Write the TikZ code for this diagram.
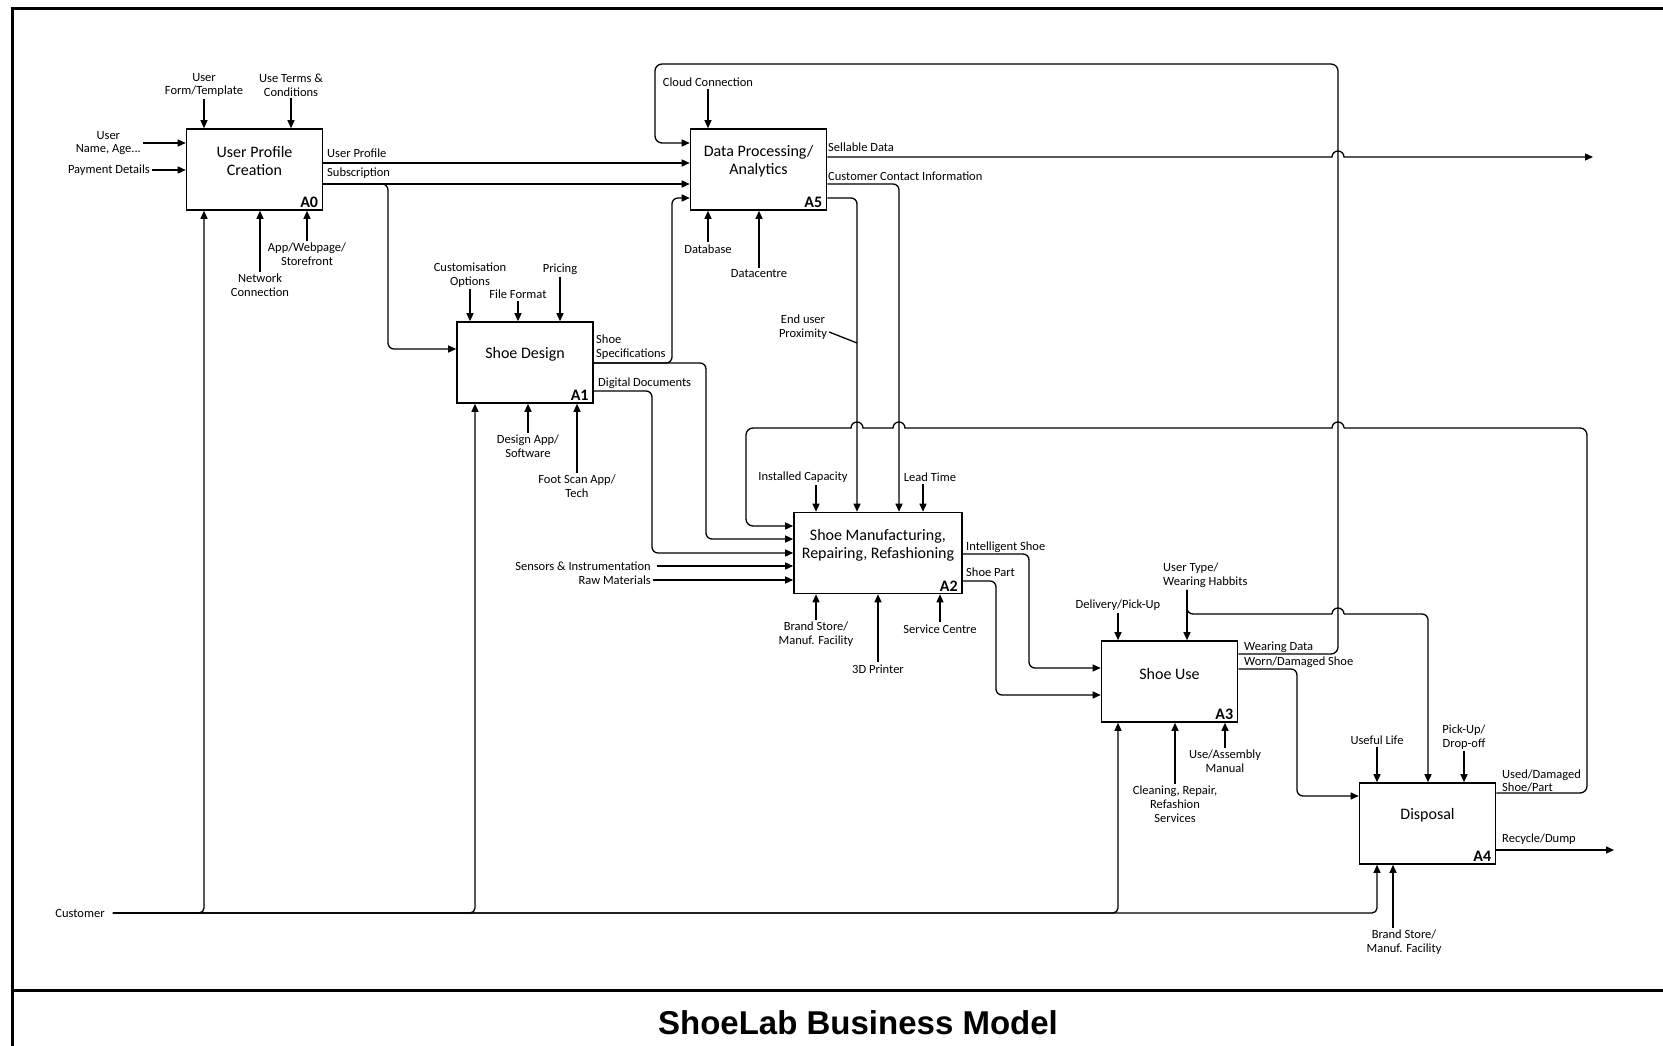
\documentclass[tikz,border=0pt]{standalone}
\usepackage{fontspec}
\setmainfont{Carlito}
\newfontfamily\titlefont{Liberation Sans}
\usetikzlibrary{arrows.meta}

\begin{document}
\begin{tikzpicture}[x=1pt, y=-1pt,
        func/.style={rectangle, draw, line width=1.6pt, minimum width=136pt, minimum height=81pt, inner sep=0pt},
        fname/.style={align=center, font=\fontsize{16}{18}\selectfont, inner sep=0pt},
        fid/.style={anchor=south east, font=\fontsize{16}{18}\selectfont\bfseries, inner xsep=5pt, inner ysep=3pt},
        lbl/.style={align=center, font=\fontsize{12.5}{13.8}\selectfont, inner sep=2pt},
        flow/.style={line width=1.3pt, -{Triangle[length=8pt,width=7pt]}},
        wire/.style={line width=1.3pt}]

        \useasboundingbox (0,0) rectangle (1663,1046);
        \fill[white] (0,0) rectangle (1663,1046);
        \draw[line width=3pt] (1663,8.5) -- (12.5,8.5) -- (12.5,1046);
        \draw[line width=3pt] (12.5,990) -- (1663,990);

        \node[func] (A0) at (254.5,169.5) {};
        \node[func] (A5) at (758.5,169.5) {};
        \node[func] (A1) at (525,362.5) {};
        \node[func, minimum width=168pt] (A2) at (878,553) {};
        \node[func] (A3) at (1169.5,681.5) {};
        \node[func] (A4) at (1427.5,823.5) {};

        \node[fname] (A0name) at ([yshift=8pt]A0.center) {User Profile\\Creation};
        \node[fname] (A5name) at ([yshift=8pt]A5.center) {Data Processing/\\Analytics};
        \node[fname] (A1name) at ([yshift=8pt]A1.center) {Shoe Design};
        \node[fname] (A2name) at ([yshift=8pt]A2.center) {Shoe Manufacturing,\\Repairing, Refashioning};
        \node[fname] (A3name) at ([yshift=8pt]A3.center) {Shoe Use};
        \node[fname] (A4name) at ([yshift=8pt]A4.center) {Disposal};
        \node[fid] (A0id) at (A0.south east) {A0};
        \node[fid] (A5id) at (A5.south east) {A5};
        \node[fid] (A1id) at (A1.south east) {A1};
        \node[fid] (A2id) at (A2.south east) {A2};
        \node[fid] (A3id) at (A3.south east) {A3};
        \node[fid] (A4id) at (A4.south east) {A4};

        \node[lbl] (uform) at (204,85) {User\\Form/Template};
        \node[lbl] (uterms) at (291,85) {Use Terms \&\\Conditions};
        \node[lbl, anchor=east] (uname) at (143,143) {User\\Name, Age...};
        \node[lbl, anchor=east] (pay) at (152,170) {Payment Details};
        \node[lbl] (net) at (260,285) {Network\\Connection};
        \node[lbl] (app) at (307,254) {App/Webpage/\\Storefront};
        \node[lbl, anchor=west] (uprof) at (325,153) {User Profile};
        \node[lbl, anchor=west] (subs) at (325,173) {Subscription};

        \draw[flow] (uform) -- (uform |- A0.north);
        \draw[flow] (uterms) -- (uterms |- A0.north);
        \draw[flow] (uname) -- (uname -| A0.west);
        \draw[flow] (pay) -- (pay -| A0.west);
        \draw[flow] (net) -- (net |- A0.south);
        \draw[flow] (app) -- (app |- A0.south);
        \draw[flow] (A0.east |- 0,163) -- (A5.west |- 0,163);
        \draw[flow] (A0.east |- 0,184) -- (A5.west |- 0,184);
        \draw[flow, rounded corners=6pt] (A0.east |- 0,184) -- (388,184) |- (A1.west |- 0,349);

        \node[lbl] (cloud) at (708,82) {Cloud Connection};
        \node[lbl] (dbase) at (708,249) {Database};
        \node[lbl] (dcentre) at (759,274) {Datacentre};
        \node[lbl, anchor=west] (sell) at (826,147) {Sellable Data};
        \node[lbl, anchor=west] (cinfo) at (826,176) {Customer Contact Information};
        \node[lbl] (prox) at (803,327) {End user\\Proximity};
        \coordinate (sellend) at (1593,157);

        \draw[flow] (cloud) -- (cloud |- A5.north);
        \draw[flow] (dbase) -- (dbase |- A5.south);
        \draw[flow] (dcentre) -- (dcentre |- A5.south);
        \draw[flow, rounded corners=7pt] (A3.east |- 0,654) -- (1338,654) -- (1338,64) -- (655,64) -- (655,143) -- (A5.west |- 0,143);
        \draw[flow] (A5.east |- 0,157) -- (1332,157) arc[start angle=180, end angle=0, radius=6pt] -- (sellend);
        \draw[flow, rounded corners=6pt] (A5.east |- 0,184) -| (A2.north -| 899,0);
        \draw[flow, rounded corners=6pt] (A5.east |- 0,198) -| (A2.north -| 857,0);
        \draw[wire] ([yshift=-5pt]prox.east) -- (857,343);

        \node[lbl] (custopt) at (470,275) {Customisation\\Options};
        \node[lbl] (filefmt) at (518,294) {File Format};
        \node[lbl] (pricing) at (560,269) {Pricing};
        \node[lbl] (dapp) at (528,446) {Design App/\\Software};
        \node[lbl] (fscan) at (577,486) {Foot Scan App/\\Tech};
        \node[lbl, anchor=west, align=left] (spec) at (594,347) {Shoe\\Specifications};
        \node[lbl, anchor=west] (ddocs) at (596,383) {Digital Documents};

        \draw[flow] (custopt) -- (custopt |- A1.north);
        \draw[flow] (filefmt) -- (filefmt |- A1.north);
        \draw[flow] (pricing) -- (pricing |- A1.north);
        \draw[flow] (dapp) -- (dapp |- A1.south);
        \draw[flow] (fscan) -- (fscan |- A1.south);
        \draw[flow, rounded corners=6pt] (A1.east |- 0,363) -- (672,363) |- (A5.west |- 0,198);
        \draw[flow, rounded corners=6pt] (A1.east |- 0,363) -- (706,363) |- (A2.west |- 0,539);
        \draw[flow, rounded corners=6pt] (A1.east |- 0,391) -- (652,391) |- (A2.west |- 0,553);

        \node[lbl] (instcap) at (803,477) {Installed Capacity};
        \node[lbl] (lead) at (930,477) {Lead Time};
        \node[lbl, anchor=east] (sensor) at (653,566) {Sensors \& Instrumentation};
        \node[lbl, anchor=east] (rawmat) at (653,580) {Raw Materials};
        \node[lbl] (brand1) at (816,634) {Brand Store/\\Manuf. Facility};
        \node[lbl] (printer) at (878,669) {3D Printer};
        \node[lbl] (service) at (940,629) {Service Centre};
        \node[lbl, anchor=west] (ishoe) at (964,547) {Intelligent Shoe};
        \node[lbl, anchor=west] (spart) at (964,572) {Shoe Part};

        \draw[flow] ([xshift=13pt]instcap.south) -- ([xshift=13pt]instcap.south |- A2.north);
        \draw[flow] ([xshift=-7pt]lead.south) -- ([xshift=-7pt]lead.south |- A2.north);
        \draw[flow] ([xshift=4pt]sensor.east) -- (sensor -| A2.west);
        \draw[flow] (rawmat) -- (rawmat -| A2.west);
        \draw[flow] (brand1) -- (brand1 |- A2.south);
        \draw[flow] (printer) -- (printer |- A2.south);
        \draw[flow] (service) -- (service |- A2.south);
        \draw[wire, rounded corners=7pt] (A4.east |- 0,793) -- (1587,793) -- (1587,428) -- (1344,428);
        \draw[wire] (1344,428) arc[start angle=0, end angle=180, radius=6pt] -- (905,428)
            arc[start angle=0, end angle=180, radius=6pt] -- (863,428)
            arc[start angle=0, end angle=180, radius=6pt] -- (762,428);
        \draw[flow, rounded corners=7pt] (762,428) -- (746,428) -- (746,526) -- (A2.west |- 0,526);
        \draw[flow, rounded corners=6pt] (A2.east |- 0,554) -- (1029,554) |- (A3.west |- 0,668);
        \draw[flow, rounded corners=6pt] (A2.east |- 0,581) -- (996,581) |- (A3.west |- 0,695);

        \node[lbl] (deliv) at (1118,605) {Delivery/Pick-Up};
        \node[lbl, anchor=west, align=left] (utype) at (1161,575) {User Type/\\Wearing Habbits};
        \node[lbl] (clean) at (1175,804) {Cleaning, Repair,\\Refashion\\Services};
        \node[lbl] (manual) at (1225,761) {Use/Assembly\\Manual};
        \node[lbl, anchor=west] (wdata) at (1242,647) {Wearing Data};
        \node[lbl, anchor=west] (worn) at (1242,662) {Worn/Damaged Shoe};

        \draw[flow] (deliv) -- (deliv |- A3.north);
        \draw[flow] (utype.south -| 1187,0) -- (A3.north -| 1187,0);
        \draw[wire, rounded corners=6pt] (utype.south -| 1187,0) |- (1332,614);
        \draw[wire] (1332,614) arc[start angle=180, end angle=0, radius=6pt];
        \draw[flow, rounded corners=6pt] (1344,614) -| (A4.north -| 1428,0);
        \draw[flow] (clean) -- (clean |- A3.south);
        \draw[flow] (manual) -- (manual |- A3.south);
        \draw[flow, rounded corners=6pt] (A3.east |- 0,669) -- (1297,669) |- (A4.west |- 0,796);

        \node[lbl] (useful) at (1377,740) {Useful Life};
        \node[lbl] (pickup) at (1464,737) {Pick-Up/\\Drop-off};
        \node[lbl, anchor=west, align=left] (used) at (1500,781) {Used/Damaged\\Shoe/Part};
        \node[lbl, anchor=west] (recyc) at (1500,839) {Recycle/Dump};
        \node[lbl] (brand2) at (1404,942) {Brand Store/\\Manuf. Facility};
        \coordinate (recycend) at (1614,850);

        \draw[flow] (useful) -- (useful |- A4.north);
        \draw[flow] (pickup) -- (pickup |- A4.north);
        \draw[flow] (A4.east |- 0,850) -- (recycend);
        \draw[flow] (brand2.north -| 1393,0) -- (A4.south -| 1393,0);

        \node[lbl] (customer) at (80,913) {Customer};
        \draw[flow, rounded corners=5pt] ([xshift=6pt]customer.east) -| (A0.south -| 204,0);
        \draw[flow, rounded corners=5pt] ([xshift=6pt]customer.east) -| (A1.south -| 475,0);
        \draw[flow, rounded corners=5pt] ([xshift=6pt]customer.east) -| (A3.south -| 1118,0);
        \draw[flow, rounded corners=5pt] ([xshift=6pt]customer.east) -| (A4.south -| 1377,0);

        \node[font=\titlefont\bfseries\fontsize{33}{40}\selectfont] (title) at (858,1023) {ShoeLab Business Model};
    \end{tikzpicture}
\end{document}
